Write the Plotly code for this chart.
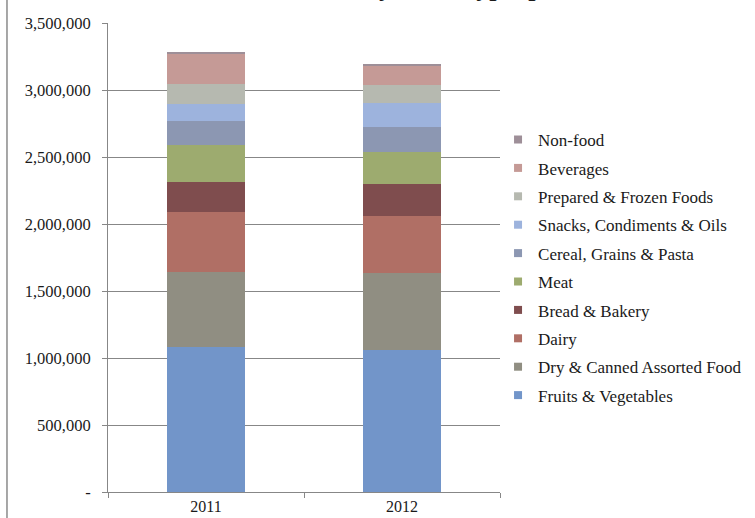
import plotly.graph_objects as go

# Pounds distributed per food type, stacked by year
years = ["2011", "2012"]

categories = [
    "Fruits & Vegetables",
    "Dry & Canned Assorted Food",
    "Dairy",
    "Bread & Bakery",
    "Meat",
    "Cereal, Grains & Pasta",
    "Snacks, Condiments & Oils",
    "Prepared & Frozen Foods",
    "Beverages",
    "Non-food",
]

fruits_veg = [1080000, 1060000]
dry_canned = [562000, 577000]
dairy = [450000, 423000]
bread_bakery = [219000, 239000]
meat = [279000, 241000]
cereal_grains = [179000, 186000]
snacks_condiments = [127000, 179000]
prepared_frozen = [149000, 135000]
beverages = [225000, 140000]
non_food = [10000, 10000]

series_values = [
    fruits_veg, dry_canned, dairy, bread_bakery, meat,
    cereal_grains, snacks_condiments, prepared_frozen, beverages, non_food,
]

colors = [
    "#7295c9", "#908e82", "#b06f65", "#7f4d4e", "#9dab6f",
    "#8c97b2", "#9db3dd", "#b6b9b0", "#c59a96", "#9e8f98",
]

y_tick_vals = [0, 500000, 1000000, 1500000, 2000000, 2500000, 3000000, 3500000]
y_tick_text = ["-", "500,000", "1,000,000", "1,500,000", "2,000,000",
               "2,500,000", "3,000,000", "3,500,000"]

serif = "Liberation Serif, Times New Roman, serif"
axis_gray = "#878787"

fig = go.Figure()

n = len(categories)
for i, (name, vals, col) in enumerate(zip(categories, series_values, colors)):
    fig.add_trace(go.Bar(
        x=years, y=vals, name=name,
        marker=dict(color=col, line=dict(width=0)),
        showlegend=False,
    ))
    # small square legend swatch; top of stack listed first
    fig.add_trace(go.Scatter(
        x=[None], y=[None], mode="markers", name=name,
        legendgroup=name, legendrank=n - i,
        marker=dict(symbol="square", size=8, color=col),
        showlegend=True,
    ))

fig.update_layout(
    width=755, height=518,
    margin=dict(l=108, r=255, t=23, b=26, autoexpand=False),
    paper_bgcolor="white", plot_bgcolor="white",
    barmode="stack", bargap=0.6,
    font=dict(family=serif, size=16, color="#1a1a1a"),
    showlegend=True,
    legend=dict(
        x=0.995, xanchor="left", y=0.789, yanchor="top",
        traceorder="grouped", tracegroupgap=3.3,
        font=dict(family=serif, size=17, color="#1a1a1a"),
        bgcolor="rgba(0,0,0,0)",
    ),
    xaxis=dict(
        type="category", automargin=False,
        showline=True, linecolor=axis_gray, linewidth=1,
        ticks="outside", tickson="boundaries", ticklen=5, tickcolor=axis_gray,
        showgrid=False,
        tickfont=dict(family=serif, size=16),
    ),
    yaxis=dict(
        range=[0, 3500000], automargin=False,
        tickvals=y_tick_vals, ticktext=y_tick_text,
        showline=True, linecolor=axis_gray, linewidth=1,
        ticks="outside", ticklen=5, tickcolor=axis_gray,
        ticklabelstandoff=8,
        showgrid=True, gridcolor=axis_gray, gridwidth=1,
        zeroline=False,
        tickfont=dict(family=serif, size=16.5),
    ),
    annotations=[dict(
        text="<b>Pounds Distributed by Food Type, per Year</b>",
        xref="paper", yref="paper", x=0.70, y=1.075,
        xanchor="center", yanchor="middle", showarrow=False,
        font=dict(family=serif, size=26, color="#1a1a1a"),
    )],
    shapes=[dict(
        type="line", xref="paper", yref="paper",
        x0=-0.2577, x1=-0.2577, y0=-0.06, y1=1.06,
        line=dict(color="#8a8a8a", width=1.5),
    )],
)

fig.write_html("out.html")
